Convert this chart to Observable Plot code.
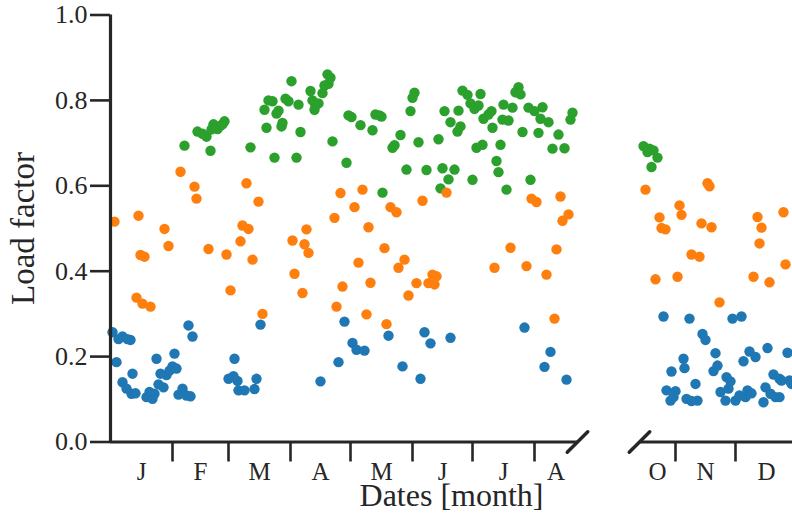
<!DOCTYPE html>
<html>
<head>
<meta charset="utf-8">
<script src="https://cdn.jsdelivr.net/npm/d3@7"></script>
<script src="https://cdn.jsdelivr.net/npm/@observablehq/plot@0.6"></script>
<style>
  html, body { margin: 0; padding: 0; background: #fff; }
  #chart svg { display: block; }
</style>
</head>
<body>
<div id="chart"></div>
<script>
// day of year (0 = Jan 1) and load factor
const green = [
  [37,0.694],[43.5,0.727],[46,0.722],[48,0.715],[50,0.682],[50.5,0.732],[51.5,0.744],[53.5,0.733],
  [55,0.741],[56,0.744],[57,0.751],[70,0.690],[77,0.778],[78,0.736],[79,0.800],[81,0.798],
  [82,0.666],[83,0.769],[84,0.776],[85.5,0.739],[86,0.747],[87.5,0.804],[89,0.798],[90.5,0.845],
  [93,0.666],[94,0.790],[95,0.726],[100,0.822],[101,0.800],[102,0.778],[102.5,0.788],[104,0.793],
  [106,0.817],[107,0.835],[108.5,0.861],[109,0.839],[110,0.853],[111,0.704],[118,0.654],[119,0.765],
  [120.5,0.761],[125,0.742],[131,0.730],[132.5,0.767],[134.5,0.765],[135.5,0.762],[136,0.584],
  [141,0.689],[142,0.695],[145,0.719],[148,0.638],[150,0.775],[151,0.806],[152,0.818],[154,0.702],
  [158,0.637],[164,0.709],[165,0.594],[166,0.641],[167,0.775],[169,0.615],[170,0.749],[172,0.638],
  [173.5,0.727],[174,0.776],[175,0.739],[176,0.823],[178.5,0.813],[180,0.793],[181,0.614],[182,0.780],
  [183,0.689],[184,0.788],[185,0.815],[186,0.696],[186.5,0.757],[189,0.767],[190.5,0.775],[191,0.736],
  [193,0.658],[194,0.632],[195,0.696],[196,0.755],[196.5,0.790],[198,0.591],[199,0.753],[201,0.783],
  [202.5,0.819],[204,0.831],[205,0.814],[206,0.726],[209,0.783],[210,0.614],[212,0.775],[214,0.724],
  [215,0.757],[216,0.784],[219,0.749],[221,0.687],[224,0.720],[227,0.688],[230,0.755],[231,0.771],
  [288,0.693],[290,0.679],[291,0.687],[292,0.644],[293,0.683],[295,0.666]
];
const orange = [
  [2,0.516],[13,0.338],[14,0.530],[15,0.438],[16,0.324],[17,0.434],[20,0.317],[27,0.499],
  [29,0.459],[35,0.633],[42,0.598],[43,0.570],[49,0.452],[58,0.439],[60,0.355],[65,0.470],
  [66,0.507],[68,0.606],[69,0.499],[71,0.427],[74,0.563],[76,0.300],[91,0.472],[92,0.394],
  [96,0.349],[97,0.463],[98,0.498],[99,0.443],[112,0.525],[113,0.317],[115,0.583],[116,0.364],
  [122,0.550],[124,0.420],[126,0.591],[128,0.299],[129,0.503],[130,0.373],[137,0.454],[138,0.276],
  [140,0.550],[143,0.538],[144,0.408],[147,0.427],[149,0.343],[153,0.372],[156,0.565],[159,0.372],
  [161,0.392],[162,0.369],[163,0.388],[168,0.584],[192,0.408],[200,0.455],[208,0.412],[210.5,0.570],
  [213,0.562],[218,0.392],[222,0.289],[223,0.451],[225,0.575],[226,0.518],[229,0.533],
  [289,0.591],[294,0.381],[296,0.526],[297,0.501],[299,0.498],[305,0.387],[306,0.554],[307,0.532],
  [312,0.439],[316,0.434],[317,0.512],[320,0.606],[321,0.599],[322,0.503],[326,0.327],[343,0.387],
  [345,0.527],[346,0.465],[347,0.502],[351,0.374],[358,0.538],[359,0.416]
];
const blue = [
  [1,0.257],[3,0.187],[4,0.241],[6,0.247],[6,0.140],[8,0.125],[8.5,0.241],[10,0.239],
  [10.5,0.113],[11,0.160],[12.5,0.114],[18,0.105],[19.5,0.117],[21,0.101],[22,0.113],[23,0.195],
  [24,0.135],[25,0.160],[26.5,0.128],[28,0.157],[29.5,0.167],[31,0.177],[32,0.207],[33,0.172],
  [34,0.111],[36,0.125],[38,0.109],[39,0.273],[40,0.107],[41,0.247],[59,0.148],[61.5,0.154],
  [62,0.195],[63.5,0.143],[64,0.121],[67,0.121],[72,0.124],[73,0.148],[75,0.275],[105,0.142],
  [114,0.187],[117,0.282],[121,0.232],[123,0.216],[127,0.214],[139,0.249],[146,0.177],[155,0.148],
  [157,0.257],[160,0.231],[170,0.244],[207,0.268],[217,0.176],[220,0.211],[228,0.146],
  [298,0.294],[299.5,0.121],[301.5,0.097],[302,0.165],[303,0.105],[304,0.119],[308,0.195],[308.5,0.173],
  [309.5,0.101],[311,0.289],[312,0.096],[314,0.136],[315,0.097],[317.5,0.253],[319,0.239],[323,0.166],
  [324,0.208],[325,0.179],[326.5,0.117],[329,0.097],[329.5,0.152],[330.5,0.125],[331.5,0.142],[332.5,0.289],
  [334,0.097],[336,0.109],[337,0.294],[338,0.189],[339,0.105],[340,0.121],[341,0.212],[342,0.114],
  [344,0.199],[348,0.093],[349,0.128],[350,0.220],[351.5,0.113],[353,0.158],[354,0.105],[356,0.148],
  [356,0.105],[357,0.144],[360,0.209],[361,0.144],[362,0.136]
];

const monthLabels = ["J","F","M","A","M","J","J","A","S","O","N","D"];
const monthStarts = [0,31,59,90,120,151,181,212,243,273,304,334,365];
const panels = [[0, 233.5], [286, 365]];   // the two visible date ranges (broken axis)
const yTicks = [0, 0.2, 0.4, 0.6, 0.8, 1.0];

const colors = {green: "#2ca02c", orange: "#ff7f0e", blue: "#1f77b4"};
const ink = "#262626";
const font = "'Liberation Serif', 'DejaVu Serif', serif";

// derived helpers
const toRows = (arr) => arr.map(([day, load]) => ({day, load}));
const inside = (d) => panels.some(([a, b]) => d > a && d < b);
const boundaryTicks = monthStarts.filter(inside);
const labelRows = [];
monthLabels.forEach((m, i) => {
  panels.forEach(([a, b]) => {
    const lo = Math.max(monthStarts[i], a), hi = Math.min(monthStarts[i + 1], b);
    if (hi - lo > 5) labelRows.push({mid: (lo + hi) / 2, label: m});
  });
});
const panelRows = panels.map(([start, end]) => ({start, end}));
const breakRows = [{day: panels[0][1]}, {day: panels[1][0]}];

const slash = {draw(context, l) { context.moveTo(0, 0); context.lineTo(0, -l); }};

const chart = Plot.plot({
  width: 792,
  height: 513,
  marginLeft: 110,
  marginRight: 0,
  marginTop: 14.5,
  marginBottom: 71.5,
  style: {fontFamily: font, color: ink, background: "#fff", overflow: "visible"},
  x: {type: "linear", axis: null, domain: [0, panels[0][1], panels[1][0], panels[1][1]], range: [110, 577, 639, 797]},
  y: {type: "linear", domain: [0, 1]},
  marks: [
    Plot.dot(toRows(green), {x: "day", y: "load", r: 5.2, fill: colors.green}),
    Plot.dot(toRows(orange), {x: "day", y: "load", r: 5.2, fill: colors.orange}),
    Plot.dot(toRows(blue), {x: "day", y: "load", r: 5.2, fill: colors.blue}),
    // y spine and ticks
    Plot.ruleX([0], {y1: 0, y2: 1, stroke: ink, strokeWidth: 3.2}),
    Plot.axisY({ticks: yTicks, tickFormat: d3.format(".1f"), tickSize: 20, tickPadding: 3,
      strokeWidth: 2.6, stroke: ink, fill: ink, fontSize: 26, label: null}),
    // broken x spine
    Plot.ruleY(panelRows, {y: 0, x1: "start", x2: "end", stroke: ink, strokeWidth: 3.2}),
    Plot.ruleX(boundaryTicks, {x: d => d, y1: 0, y2: 0, insetTop: 20, stroke: ink, strokeWidth: 2.6}),
    Plot.text(labelRows, {x: "mid", y: 0, text: "label", dy: 30, fontSize: 25, fill: ink}),
    // break marks
    Plot.vector(breakRows, {x: "day", y: 0, length: 29, rotate: 45, anchor: "middle",
      shape: slash, stroke: ink, strokeWidth: 3.5}),
    // axis titles
    Plot.text(["Load factor"], {frameAnchor: "left", textAnchor: "middle", text: d => d, rotate: -90,
      dx: -87, fontSize: 33, fill: ink}),
    Plot.text(["Dates [month]"], {frameAnchor: "bottom", textAnchor: "middle", lineAnchor: "bottom",
      text: d => d, dy: 64, fontSize: 32, fill: ink})
  ]
});
document.getElementById("chart").appendChild(chart);
</script>
</body>
</html>
